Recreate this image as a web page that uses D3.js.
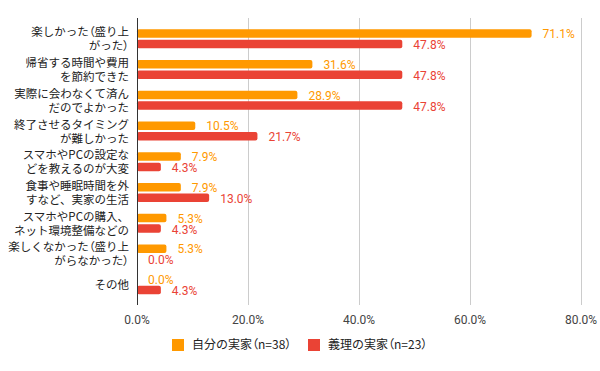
<!DOCTYPE html>
<html><head><meta charset="utf-8">
<script src="https://cdn.jsdelivr.net/npm/d3@7"></script>
<style>body{margin:0;background:#fff;} svg{display:block;font-family:"Noto Sans CJK JP","Noto Sans",sans-serif;}
.palt{font-feature-settings:"palt";}
.num{font-family:Roboto,"Liberation Sans",sans-serif;}
</style>
</head><body><svg id="c" width="600" height="371"></svg>
<script>
const categories = [
  ["楽しかった（盛り上","がった）"],
  ["帰省する時間や費用","を節約できた"],
  ["実際に会わなくて済ん","だのでよかった"],
  ["終了させるタイミング","が難しかった"],
  ["スマホやPCの設定な","どを教えるのが大変"],
  ["食事や睡眠時間を外","すなど、実家の生活"],
  ["スマホやPCの購入、","ネット環境整備などの"],
  ["楽しくなかった（盛り上","がらなかった）"],
  ["その他"]
];
const seriesNames = ["自分の実家（n=38）","義理の実家（n=23）"];
const ownHome = [71.1, 31.6, 28.9, 10.5, 7.9, 7.9, 5.3, 5.3, 0.0];
const inLawHome = [47.8, 47.8, 47.8, 21.7, 4.3, 13.0, 4.3, 0.0, 4.3];
const xTicks = [0, 20, 40, 60, 80];
const colors = ["#ff9900", "#ea4335"];

const svg = d3.select("#c");
const x = d3.scaleLinear().domain([0, 80]).range([137, 581]);
const y = d3.scaleBand().domain(d3.range(categories.length)).range([23, 299.5]);
const barH = 8.5, gap = 2;

// render a string, making full-width parentheses narrow
function fillText(sel, str) {
  str.split(/([（）])/).filter(s => s.length).forEach(part => {
    const t = sel.append("tspan").text(part);
    if (part === "（" || part === "）") t.attr("class", "palt");
  });
}

// gridlines
svg.append("g").selectAll("line").data(xTicks.slice(1)).join("line")
  .attr("x1", d => x(d)).attr("x2", d => x(d))
  .attr("y1", 18).attr("y2", 305)
  .attr("stroke", "#cccccc").attr("stroke-width", 1).attr("shape-rendering","crispEdges");

// tick labels
svg.append("g").selectAll("text").data(xTicks).join("text")
  .attr("class", "num")
  .attr("x", d => x(d)).attr("y", 320)
  .attr("dy", "0.35em")
  .attr("text-anchor", "middle").attr("font-size", 12).attr("fill", "#444")
  .text(d => d.toFixed(1) + "%");

const series = [ownHome, inLawHome];
series.forEach((vals, si) => {
  const g = svg.append("g");
  g.selectAll("rect").data(vals).join("rect")
    .attr("x", x(0))
    .attr("y", (d, i) => y(i) + y.bandwidth()/2 + (si === 0 ? -barH - gap/2 + 0.5 : gap/2 + 0.5))
    .attr("width", d => Math.max(0, x(d) - x(0)))
    .attr("height", barH)
    .attr("rx", d => d > 0 ? 2 : 0)
    .attr("fill", colors[si]);
  g.selectAll("text").data(vals).join("text")
    .attr("class", "num")
    .attr("x", d => x(d) + 11)
    .attr("y", (d, i) => y(i) + y.bandwidth()/2 + (si === 0 ? -barH/2 - gap/2 + 1 : barH/2 + gap/2 + 1.5))
    .attr("dy", "0.35em")
    .attr("font-size", 12).attr("fill", colors[si])
    .text(d => d.toFixed(1) + "%");
});

// axis line
svg.append("line").attr("x1", x(0)).attr("x2", x(0)).attr("y1", 18).attr("y2", 305)
  .attr("stroke", "#333").attr("stroke-width", 1).attr("shape-rendering","crispEdges");

// category labels
const cl = svg.append("g");
categories.forEach((lines, i) => {
  const cy = y(i) + y.bandwidth()/2 + 1;
  lines.forEach((ln, j) => {
    const off = lines.length === 1 ? 0 : (j === 0 ? -7 : 7);
    const t = cl.append("text").attr("text-anchor", "end").attr("font-size", 11.5).attr("fill", "#222")
      .attr("x", 129).attr("y", cy + off).attr("dy", "0.35em");
    fillText(t, ln);
  });
});

// legend
const lg = svg.append("g");
const legX = [172, 308];
seriesNames.forEach((n, i) => {
  lg.append("rect").attr("x", legX[i]).attr("y", 339).attr("width", 12).attr("height", 12).attr("fill", colors[i]);
  const t = lg.append("text").attr("x", legX[i] + 20).attr("y", 345).attr("dy", "0.35em")
    .attr("font-size", 12).attr("fill", "#222");
  fillText(t, n);
});
</script></body></html>
